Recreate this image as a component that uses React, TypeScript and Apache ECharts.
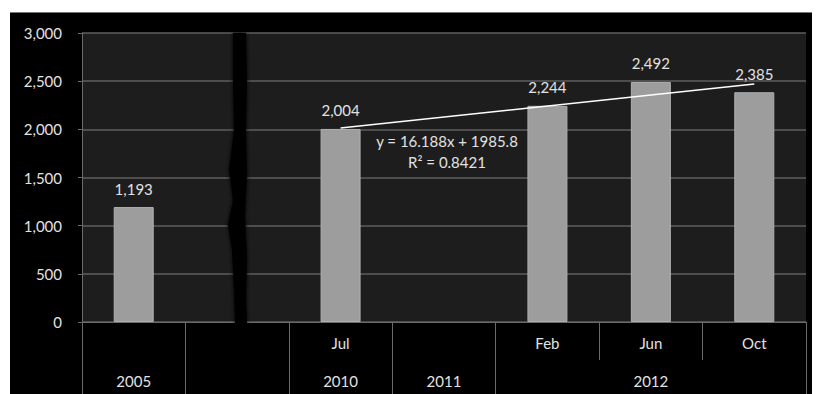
import React, { useEffect, useRef } from "react";
import * as echarts from "echarts";

const categories = ["2005", "gap", "Jul 2010", "2011", "Feb 2012", "Jun 2012", "Oct 2012"];
const monthLabels = ["", "", "Jul", "", "Feb", "Jun", "Oct"];
const yearLabels = ["2005", "", "2010", "2011", "", "2012", ""];
const values = [1193, null, 2004, null, 2244, 2492, 2385];
const trendValues = [null, null, 2014, null, null, null, 2470];
const yTicks = { min: 0, max: 3000, interval: 500 };
const equationLines = ["y = 16.188x + 1985.8", "R\u00B2 = 0.8421"];

const FONT = "Lato, 'Open Sans', sans-serif";
const TXT = "#e2e2e2";
const FS = 15;

export default function App() {
  const ref = useRef<HTMLDivElement>(null);
  useEffect(() => {
    if (!ref.current) return;
    const chart = echarts.init(ref.current, null, { renderer: "svg" });
    const fmt = (v: number) => v.toLocaleString("en-US");
    chart.setOption({
      animation: false,
      backgroundColor: "transparent",
      textStyle: { fontFamily: FONT },
      grid: {
        left: 82,
        right: 11,
        top: 33,
        bottom: 72,
        show: true,
        backgroundColor: "#1d1d1d",
        borderWidth: 0,
      },
      xAxis: [
        {
          type: "category",
          position: "bottom",
          data: categories,
          axisLine: { show: true, lineStyle: { color: "#6a6a6a", width: 1 } },
          axisTick: { show: true, length: 38, interval: 0, lineStyle: { color: "#6a6a6a" } },
          axisLabel: {
            interval: 0,
            margin: 13,
            color: TXT,
            fontSize: FS,
            fontFamily: FONT,
            formatter: (_v: string, i: number) => monthLabels[i],
          },
        },
        {
          type: "category",
          position: "bottom",
          offset: 38,
          data: categories,
          axisLine: { show: false },
          axisTick: {
            show: true,
            length: 36,
            interval: (i: number) => i <= 4,
            lineStyle: { color: "#6a6a6a" },
          },
          axisLabel: {
            interval: 0,
            margin: 13,
            color: TXT,
            fontSize: FS,
            fontFamily: FONT,
            formatter: (_v: string, i: number) => yearLabels[i],
          },
        },
      ],
      yAxis: {
        type: "value",
        min: yTicks.min,
        max: yTicks.max,
        interval: yTicks.interval,
        axisLine: { show: true, lineStyle: { color: "#6a6a6a" } },
        axisTick: { show: true, length: 4, lineStyle: { color: "#6a6a6a" } },
        splitLine: { show: true, lineStyle: { color: "#5e5e5e", width: 1.5 } },
        axisLabel: { color: TXT, fontSize: FS, fontFamily: FONT, margin: 20, formatter: fmt },
      },
      series: [
        {
          type: "bar",
          data: values.map((v) => (v == null ? "-" : v)),
          barWidth: 40,
          itemStyle: { color: "#9d9d9d", borderColor: "#b0b0b0", borderWidth: 1 },
          label: {
            show: true,
            position: "top",
            distance: 11,
            color: TXT,
            fontSize: FS,
            fontFamily: FONT,
            formatter: (p: any) => fmt(p.value),
          },
        },
        {
          type: "line",
          data: trendValues.map((v) => (v == null ? "-" : v)),
          connectNulls: true,
          symbol: "none",
          lineStyle: { color: "#ffffff", width: 1.5 },
          z: 5,
        },
      ],
      graphic: [
        {
          type: "polygon",
          z: 100,
          shape: {
            points: [
              [233, 33], [246, 33], [247, 80], [246, 130], [247, 175], [245, 215],
              [247, 260], [246, 300], [247, 323], [235, 323], [234, 290], [232, 250],
              [228, 225], [233, 200], [229, 170], [234, 130], [233, 80],
            ],
          },
          style: { fill: "#000", shadowBlur: 4, shadowColor: "#000" },
        },
        {
          type: "text",
          x: 447,
          y: 141,
          z: 100,
          style: {
            text: equationLines[0],
            fill: TXT,
            font: `${FS}px ${FONT}`,
            align: "center",
            verticalAlign: "middle",
          },
        },
        {
          type: "text",
          x: 447,
          y: 162,
          z: 100,
          style: {
            text: equationLines[1],
            fill: TXT,
            font: `${FS}px ${FONT}`,
            align: "center",
            verticalAlign: "middle",
          },
        },
      ],
    });
    return () => chart.dispose();
  }, []);
  return (
    <div style={{ position: "fixed", left: 0, top: 0, width: 817, height: 394, background: "#fff" }}>
      <div
        style={{
          position: "absolute",
          left: 10,
          top: 12,
          width: 802,
          height: 382,
          background: "#000",
          borderTop: "1px solid #777",
          boxSizing: "border-box",
        }}
      />
      <div ref={ref} style={{ position: "absolute", left: 0, top: 0, width: 817, height: 394 }} />
    </div>
  );
}
